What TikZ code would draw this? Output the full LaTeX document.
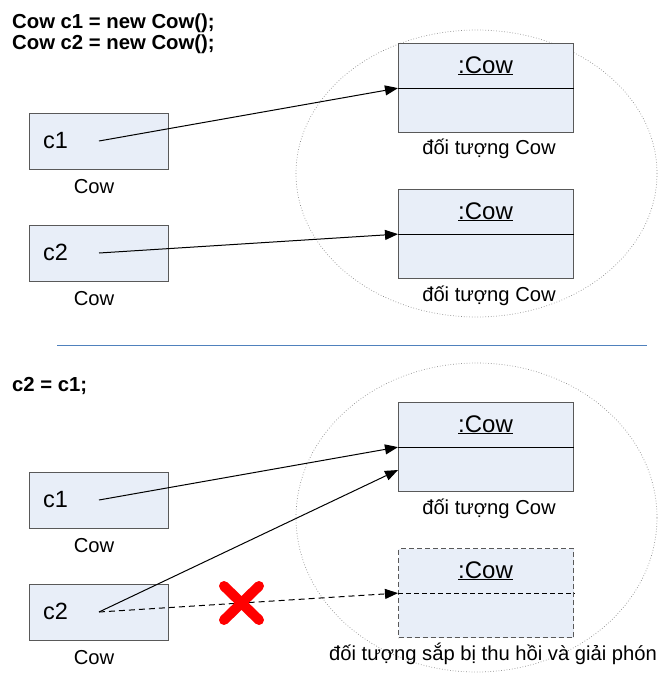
\documentclass[tikz,border=0pt]{standalone}
\usepackage{fontspec}
\setmainfont{Liberation Sans}
\usetikzlibrary{arrows.meta}
\definecolor{boxfill}{HTML}{E8EEF8}
\definecolor{boxline}{HTML}{595959}
\definecolor{sepblue}{HTML}{4F81BD}
\definecolor{ellgray}{HTML}{8C8C8C}
\begin{document}
\begin{tikzpicture}[x=1pt,y=-1pt,
  varbox/.style={draw=boxline, fill=boxfill, line width=1.2pt, minimum width=139pt, minimum height=56pt, inner sep=0pt, anchor=north west},
  objbox/.style={draw=boxline, fill=boxfill, line width=1.2pt, minimum width=175pt, minimum height=89pt, inner sep=0pt, anchor=north west},
  deadbox/.style={objbox, dash pattern=on 5pt off 3pt},
  code/.style={font=\fontsize{20.3}{24}\selectfont\bfseries, anchor=base west, inner sep=0pt},
  vartext/.style={font=\fontsize{23.5}{28}\selectfont, anchor=base west, inner sep=0pt},
  objtext/.style={font=\fontsize{24}{28}\selectfont, anchor=base, inner sep=0pt},
  lbl/.style={font=\fontsize{20.2}{24}\selectfont, anchor=base, inner sep=0pt},
  ref/.style={line width=1pt, -{Triangle[length=13pt,width=10pt]}},
  deadref/.style={ref, dash pattern=on 6pt off 4pt},
  heap/.style={draw=ellgray, line width=0.7pt, dotted},
  divider/.style={line width=1.2pt, black},
  deaddivider/.style={line width=1.2pt, black, dash pattern=on 5pt off 3pt}
]
\useasboundingbox (0,0) rectangle (658,673);

% heaps
\draw[heap] (476.5,173.5) ellipse [x radius=180.5pt, y radius=143.5pt];
\draw[heap] (476.5,517.5) ellipse [x radius=180.5pt, y radius=154.5pt];

% separator
\draw[sepblue, line width=1.3pt] (57,345.5) -- (647,345.5);

% ===== top part =====
\node[code] (t1) at (12,28) {Cow c1 = new Cow();};
\node[code] (t2) at (12,49) {Cow c2 = new Cow();};

\node[varbox] (vc1) at (29,113) {};
\node[vartext] (vc1t) at (43,148) {c1};
\node[lbl] (vc1l) at (94,193) {Cow};
\coordinate (s1) at (99,141);

\node[varbox] (vc2) at (29,225) {};
\node[vartext] (vc2t) at (43,260) {c2};
\node[lbl] (vc2l) at (94,305) {Cow};
\coordinate (s2) at (99,253);

\node[objbox] (o1) at (398,43) {};
\draw[divider] (o1.west) -- (o1.east);
\node[objtext] (o1t) at (485.5,73) {\underline{:Cow}};
\node[lbl] (o1l) at (489,154) {đối tượng Cow};

\node[objbox] (o2) at (398,189) {};
\draw[divider] (o2.west) -- (o2.east);
\node[objtext] (o2t) at (485.5,219) {\underline{:Cow}};
\node[lbl] (o2l) at (489,301) {đối tượng Cow};

\draw[ref] (s1) -- (o1.west);
\draw[ref] (s2) -- (o2.west);

% ===== bottom part =====
\node[code] (t3) at (12,391) {c2 = c1;};

\node[varbox] (vc3) at (29,472) {};
\node[vartext] (vc3t) at (43,507) {c1};
\node[lbl] (vc3l) at (94,552) {Cow};
\coordinate (s3) at (99,500);

\node[varbox] (vc4) at (29,584) {};
\node[vartext] (vc4t) at (43,619) {c2};
\node[lbl] (vc4l) at (94,664) {Cow};
\coordinate (s4) at (99,612);

\node[objbox] (o3) at (398,402) {};
\draw[divider] (o3.west) -- (o3.east);
\node[objtext] (o3t) at (485.5,432) {\underline{:Cow}};
\node[lbl] (o3l) at (489,514) {đối tượng Cow};
\coordinate (o3low) at (398,470);

\node[deadbox] (o4) at (398,548) {};
\draw[deaddivider] (o4.west) -- (o4.east);
\node[objtext] (o4t) at (485.5,578) {\underline{:Cow}};
\node[lbl, anchor=base west] (o4l) at (329,660) {đối tượng sắp bị thu hồi và giải phón};

\draw[ref] (s3) -- (o3.west);
\draw[ref] (s4) -- (o3low);
\draw[deadref] (s4) -- (o4.west);

% red cross
\draw[red, line width=10pt, line cap=round] (224,586) -- (259,620) (259,586) -- (224,620);
\end{tikzpicture}
\end{document}
